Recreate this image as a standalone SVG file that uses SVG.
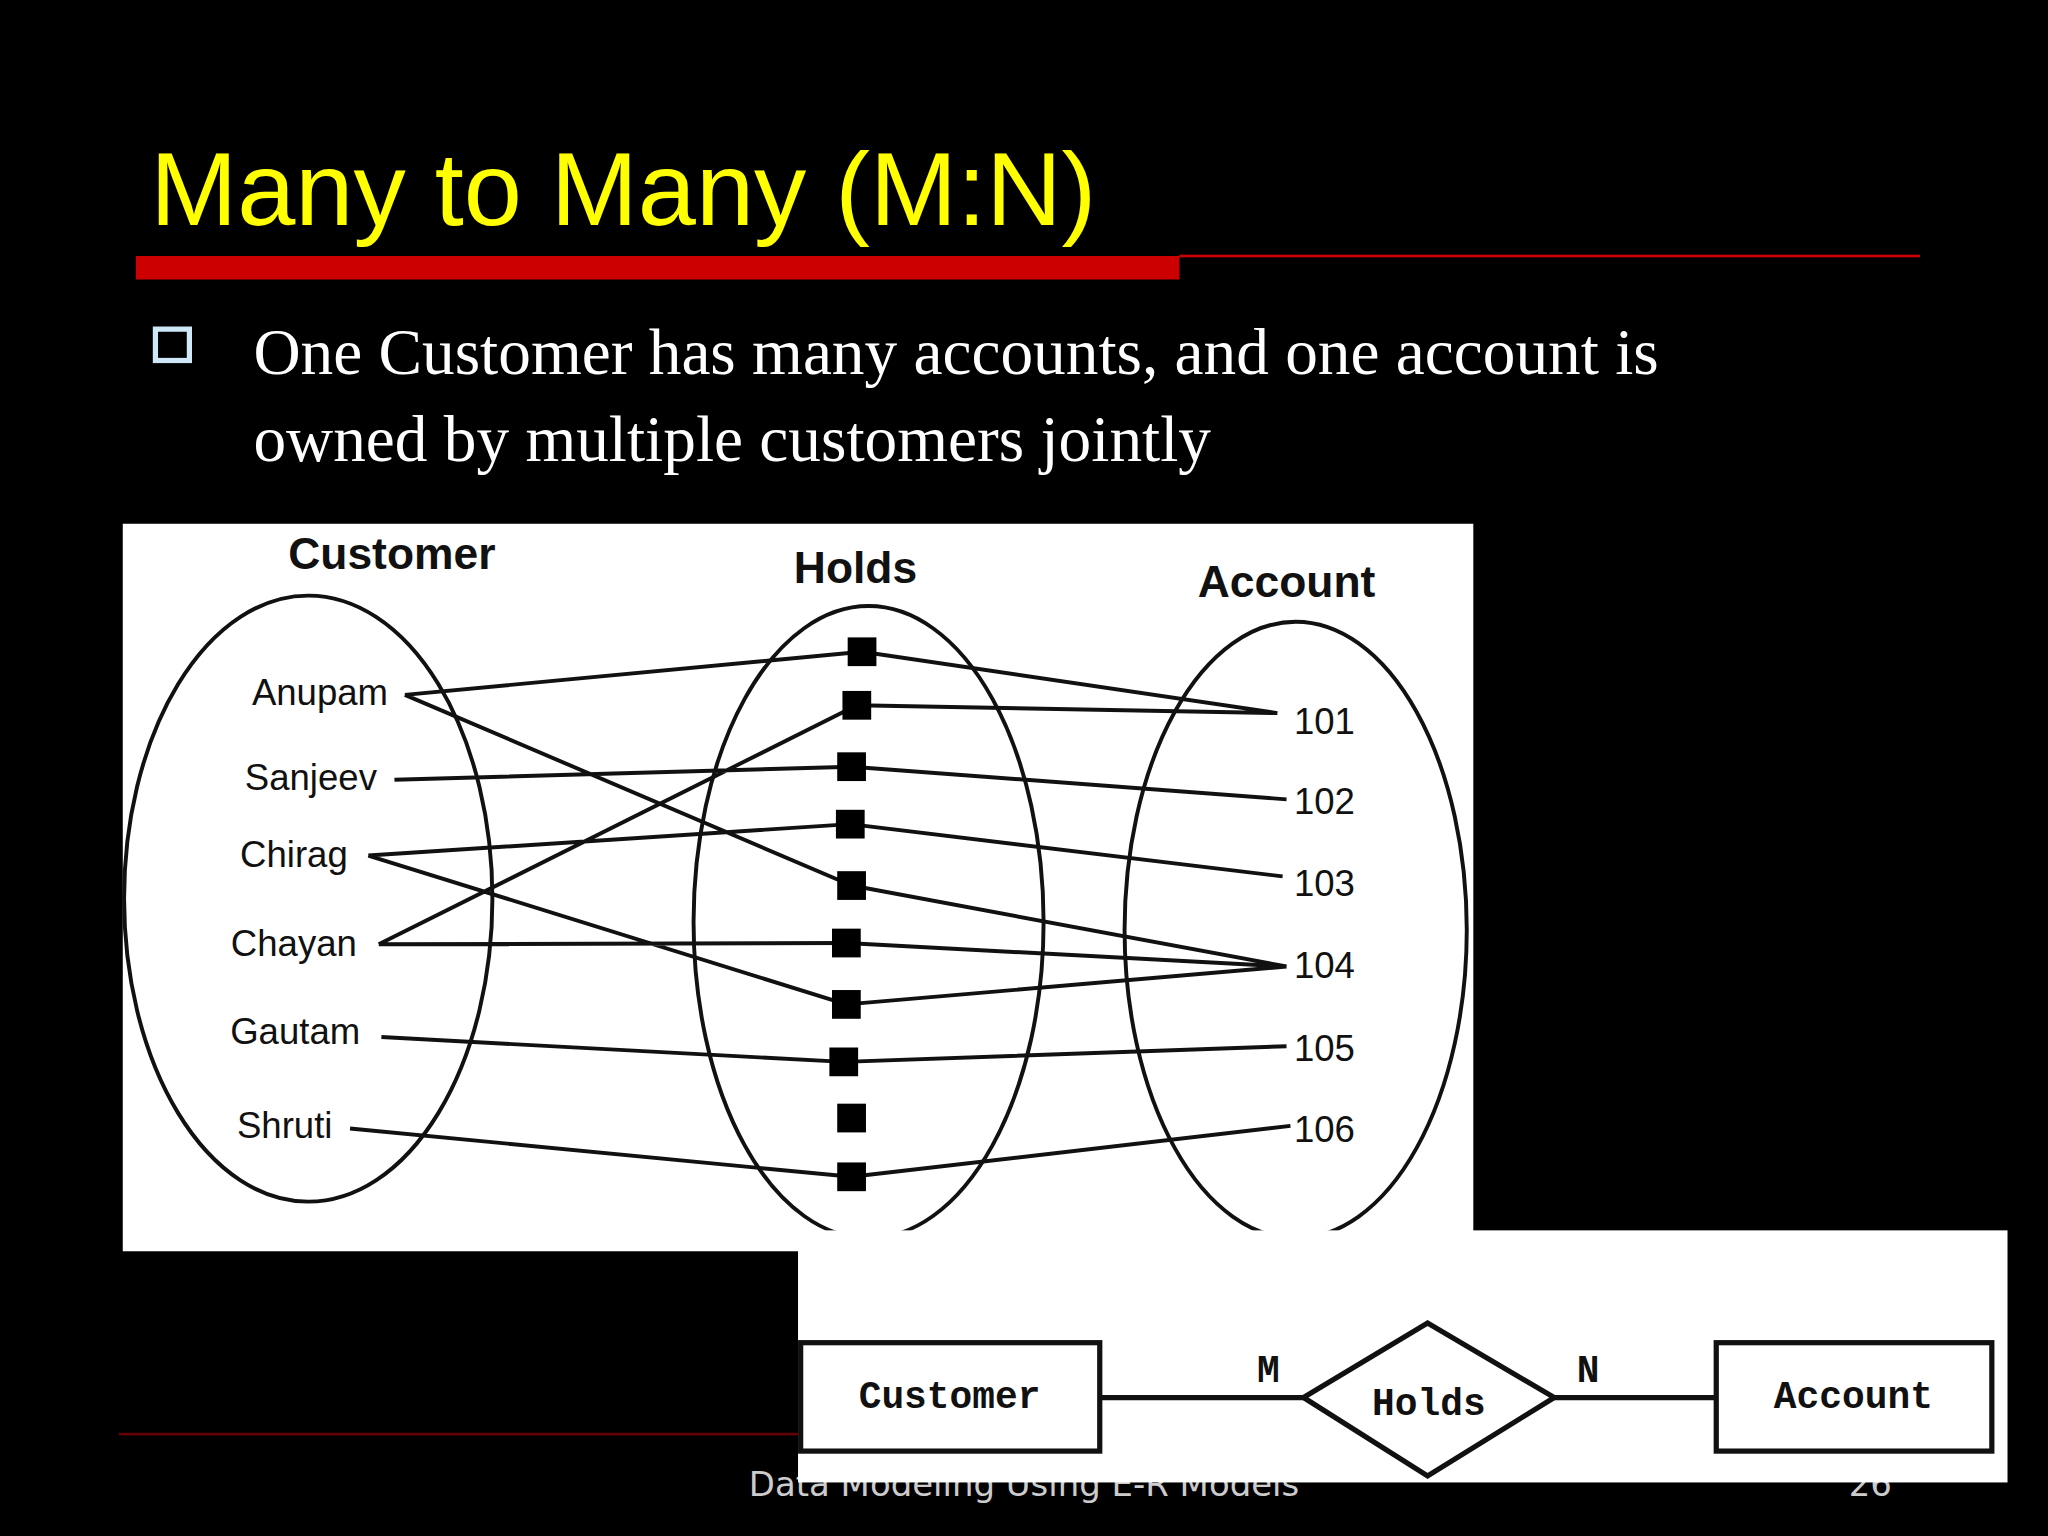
<svg xmlns="http://www.w3.org/2000/svg" width="2048" height="1536" viewBox="0 0 2048 1536">
<style>
.n{font-family:"Liberation Sans",Arial,sans-serif;font-size:28px;fill:#111}
.h{font-family:"Liberation Sans",Arial,sans-serif;font-size:34px;font-weight:bold;fill:#111;text-anchor:middle}
.c{font-family:"Liberation Mono","Courier New",monospace;font-size:29px;font-weight:bold;fill:#111;text-anchor:middle}
.e{fill:none;stroke:#111;stroke-width:3}
.sq{fill:#000}
</style>
<rect width="2048" height="1536" fill="#000"/>
<g transform="scale(1.30612)">
<text x="115" y="172" font-family="Liberation Sans,Arial,sans-serif" font-size="80" fill="#ffff00">Many to Many (M:N)</text>
<rect x="104" y="196" width="799" height="18" fill="#cc0000"/>
<rect x="903" y="195" width="567" height="2" fill="#cc0000"/>
<rect x="119" y="252" width="26" height="24" fill="none" stroke="#cfe8f8" stroke-width="4"/>
<text font-family="Liberation Serif,Times New Roman,serif" font-size="50" fill="#fff"><tspan x="194" y="286">One Customer has many accounts, and one account is</tspan><tspan x="194" y="353">owned by multiple customers jointly</tspan></text>
<rect x="91" y="1097" width="520" height="2" fill="#660000"/>
<text x="784" y="1145" font-family="DejaVu Sans,sans-serif" font-size="26" fill="#ccc" text-anchor="middle">Data Modeling Using E-R Models</text>
<text x="1432" y="1145" font-family="DejaVu Sans,sans-serif" font-size="26" fill="#ccc" text-anchor="middle">26</text>
<g id="mapping">
<rect x="94" y="401" width="1034" height="557" fill="#fff"/>
<ellipse class="e" cx="236" cy="688" rx="141" ry="232"/>
<ellipse class="e" cx="665" cy="706" rx="134" ry="242"/>
<ellipse class="e" cx="992" cy="712" rx="131" ry="236"/>
<text class="h" x="300" y="436">Customer</text>
<text class="h" x="655" y="446">Holds</text>
<text class="h" x="985" y="457">Account</text>
<g class="n" text-anchor="middle">
<text x="245" y="540">Anupam</text><text x="238" y="605">Sanjeev</text><text x="225" y="664">Chirag</text>
<text x="225" y="732">Chayan</text><text x="226" y="799">Gautam</text><text x="218" y="871">Shruti</text>
<text x="1014" y="562">101</text><text x="1014" y="623">102</text><text x="1014" y="686">103</text>
<text x="1014" y="749">104</text><text x="1014" y="812">105</text><text x="1014" y="874">106</text>
</g>
<g id="connectors" fill="none" stroke="#111" stroke-width="3">
<path d="M310 532L660 499M310 532L652 678M302 597L652 587M282 655L651 631M282 655L648 769M290 723L656 540M290 723L648 722M292 794L646 813M268 864L652 901"/>
<path d="M660 499L978 546M656 540L978 546M652 587L985 612M651 631L982 671M652 678L985 740M648 722L985 740M648 769L985 740M646 813L985 801M652 901L988 862"/>
</g>
<g class="sq">
<rect x="649" y="488" width="22" height="22"/><rect x="645" y="529" width="22" height="22"/><rect x="641" y="576" width="22" height="22"/>
<rect x="640" y="620" width="22" height="22"/><rect x="641" y="667" width="22" height="22"/><rect x="637" y="711" width="22" height="22"/>
<rect x="637" y="758" width="22" height="22"/><rect x="635" y="802" width="22" height="22"/><rect x="641" y="845" width="22" height="22"/>
<rect x="641" y="890" width="22" height="22"/>
</g>
</g>
<g id="er">
<rect x="611" y="942" width="926" height="193" fill="#fff"/>
<g id="customer"><rect x="613" y="1028" width="229" height="83" fill="#fff" stroke="#111" stroke-width="4"/><text class="c" x="727" y="1078">Customer</text></g>
<g id="holds"><polygon points="998,1070 1093,1013 1190,1070 1093,1130" fill="#fff" stroke="#111" stroke-width="4"/><text class="c" x="1094" y="1083" font-weight="normal">Holds</text></g>
<g id="account"><rect x="1314" y="1028" width="211" height="83" fill="#fff" stroke="#111" stroke-width="4"/><text class="c" x="1419" y="1078">Account</text></g>
<g id="er-connectors" stroke="#111" stroke-width="4"><line x1="842" y1="1070" x2="998" y2="1070"/><line x1="1190" y1="1070" x2="1314" y2="1070"/></g>
<text class="c" x="971" y="1058" font-weight="normal">M</text>
<text class="c" x="1216" y="1058" font-weight="normal">N</text>
</g>
</g>
</svg>
